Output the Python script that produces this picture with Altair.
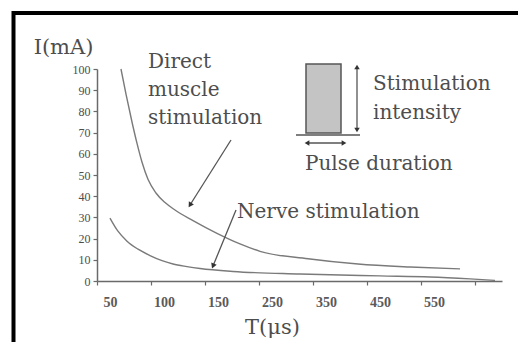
import altair as alt
import pandas as pd

# ---- data ----
direct_T = [59.7, 64.4, 69.9, 74.5, 79.2, 84.7, 92.1, 100.5, 109.7, 126.4, 148.6,
            189.8, 226.9, 315.8, 408.4, 504.7, 597.3]
direct_I = [100, 88, 75, 65, 56, 48, 41.5, 37, 33.5, 28.5, 22.5,
            17.5, 14, 10.5, 8.0, 6.6, 5.7]
nerve_T = [49.5, 56.9, 65.3, 75.5, 86.6, 97.7, 107.9, 120.8, 132.9, 176.9,
           300.9, 449.1, 541.7, 615.8, 662.1]
nerve_I = [29.7, 23.5, 18.8, 15, 12, 9.6, 8, 6.8, 5.9, 4.5,
           3.3, 2.4, 1.9, 1.0, 0.3]
x_label_values = [50, 100, 150, 250, 350, 450, 550]
x_tick_values = [37.5, 62.5, 87.5, 112.5, 137.5, 175, 225, 275, 325, 375,
                 425, 475, 525, 575, 625, 675]
y_tick_values = [0, 10, 20, 30, 40, 50, 60, 70, 80, 90, 100]

curves = pd.DataFrame(
    {"T": direct_T + nerve_T,
     "I": direct_I + nerve_I,
     "series": ["Direct muscle stimulation"] * len(direct_T)
     + ["Nerve stimulation"] * len(nerve_T)}
)
labels_df = pd.DataFrame({"T": x_label_values, "label": [str(v) for v in x_label_values]})
one = pd.DataFrame({"a": [0]})

GRAY_TXT = "#4d4d4d"
AX = "#6a6a6a"

xscale = alt.Scale(domain=[37.5, 150, 675], range=[0, 121.5, 405], nice=False, zero=False)
yscale = alt.Scale(domain=[0, 100], nice=False)

xaxis = alt.Axis(values=x_tick_values, labels=False, tickSize=4, tickColor=AX, tickWidth=1.2,
                 domainColor=AX, domainWidth=1.5, grid=False,
                 title="T(μs)", titleFont="DejaVu Serif", titleFontSize=21,
                 titleFontWeight="normal", titleColor=GRAY_TXT, titleX=175, titleY=52,
                 titleAlign="center", titleBaseline="alphabetic")
yaxis = alt.Axis(values=y_tick_values, grid=False, labelFont="Liberation Serif",
                 labelFontSize=12, labelColor=GRAY_TXT, labelPadding=3, tickSize=4,
                 tickColor=AX, tickWidth=1.2, domainColor=AX, domainWidth=1.5,
                 title="I(mA)", titleAngle=0, titleX=-34, titleY=-16, titleAlign="center",
                 titleBaseline="alphabetic", titleFont="DejaVu Serif", titleFontSize=21,
                 titleFontWeight="normal", titleColor=GRAY_TXT)

lines = alt.Chart(curves).mark_line(color="#7a7a7a", strokeWidth=1.4, interpolate="monotone").encode(
    x=alt.X("T:Q", scale=xscale, axis=xaxis),
    y=alt.Y("I:Q", scale=yscale, axis=yaxis),
    detail="series:N",
)

xlabels = alt.Chart(labels_df).mark_text(
    font="Liberation Serif", fontSize=14, fontWeight="bold", color="#5a5a5a",
    baseline="alphabetic", align="center"
).encode(x=alt.X("T:Q", scale=xscale), y=alt.value(238), text="label:N")


def txt(s, x, y, size=20, lh=28):
    return alt.Chart(one).mark_text(
        font="DejaVu Serif", fontSize=size, color=GRAY_TXT, align="left",
        baseline="alphabetic", lineBreak="\n", lineHeight=lh
    ).encode(x=alt.value(x), y=alt.value(y), text=alt.value(s))


def rule(x, y, x2, y2, color="#555", w=1.3):
    return alt.Chart(one).mark_rule(color=color, strokeWidth=w).encode(
        x=alt.value(x), y=alt.value(y), x2=alt.value(x2), y2=alt.value(y2))


def head(x, y, angle, size=35):
    return alt.Chart(one).mark_point(shape="triangle-up", filled=True, color="#333",
                                     size=size, angle=angle, opacity=1).encode(
        x=alt.value(x), y=alt.value(y))


texts = [
    txt("Direct\nmuscle\nstimulation", 51, -1),
    txt("Stimulation\nintensity", 276, 21, lh=29),
    txt("Pulse duration", 208, 101),
    txt("Nerve stimulation", 140, 149),
]

rect = alt.Chart(one).mark_rect(fill="#c4c4c4", stroke="#555", strokeWidth=1.5).encode(
    x=alt.value(209), x2=alt.value(244), y=alt.value(-5), y2=alt.value(64))

decor = [
    # frame
    rule(-83.5, -58, -83.5, 273, color="#000", w=4),
    rule(-85, -56, 421, -56, color="#000", w=4),
    # pulse icon base and arrows
    rule(199, 66, 263, 66),
    rule(260, -2, 260, 61),
    rule(210, 74, 247, 74),
    head(260, -2, 0, 30), head(260, 61, 180, 30),
    head(210, 74, 270, 30), head(247, 74, 90, 30),
    # annotation arrows
    rule(134, 71, 93, 136),
    head(93, 136, 212),
    rule(139, 141, 116, 197),
    head(116, 197, 202),
]

chart = alt.layer(lines, xlabels, rect, *texts, *decor).properties(
    width=405, height=212,
    padding={"left": 97, "top": 69, "right": 16, "bottom": 61},
    autosize=alt.AutoSizeParams(type="none"),
    background="white",
).configure_view(stroke=None)

chart.save("out.html", embed_options={"renderer": "svg", "actions": False})
